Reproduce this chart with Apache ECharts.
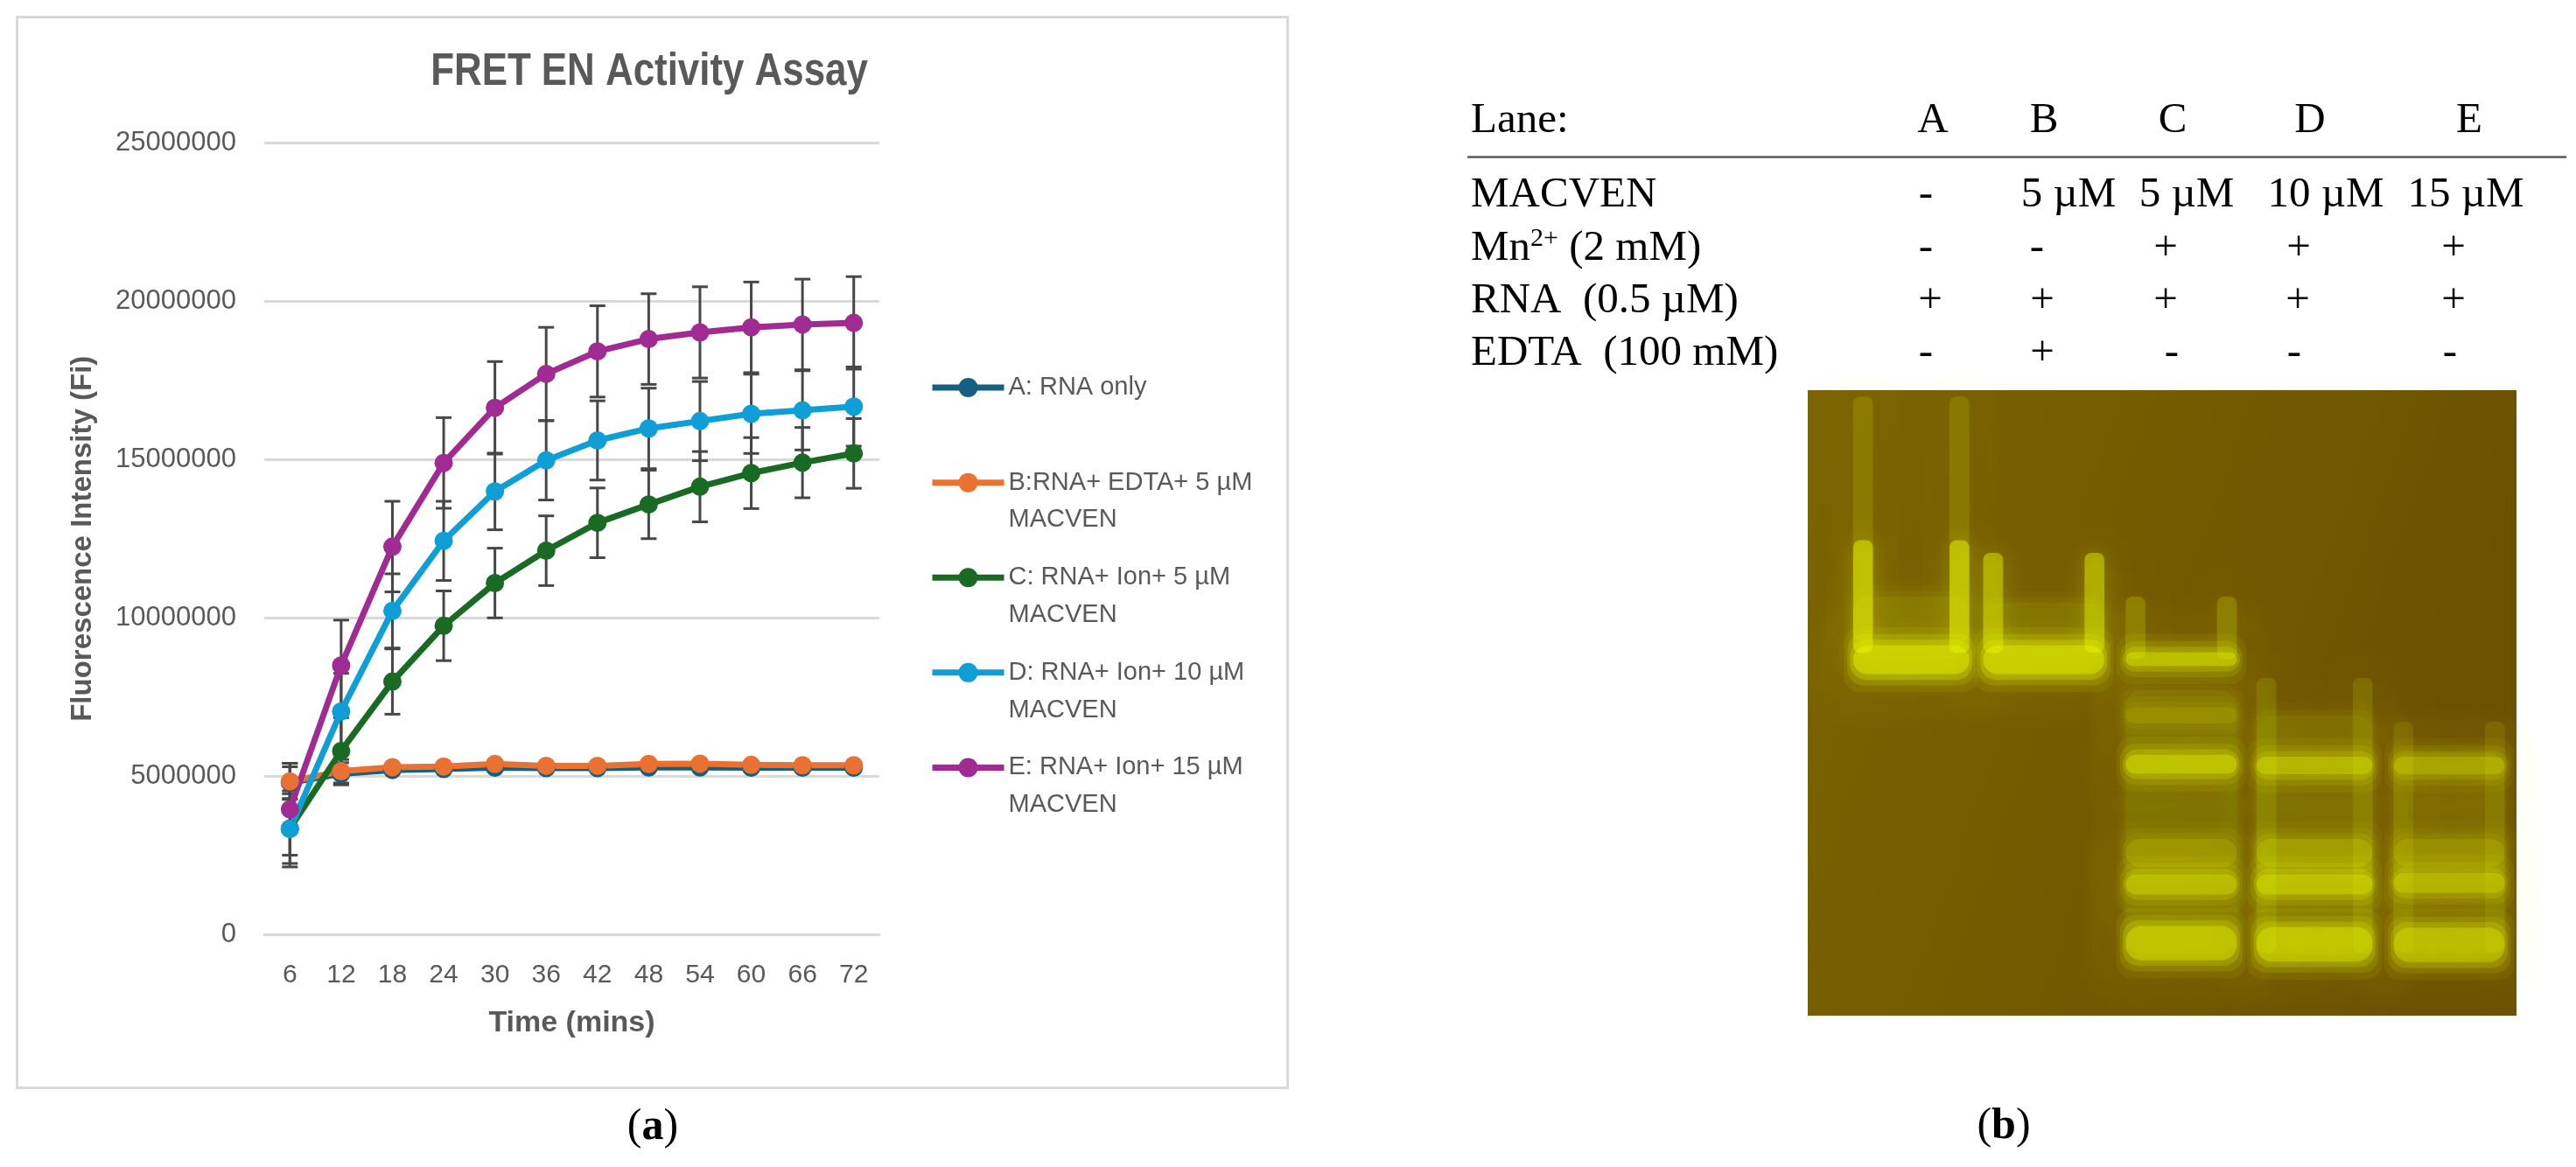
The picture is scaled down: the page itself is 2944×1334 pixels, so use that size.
<!DOCTYPE html>
<html>
<head>
<meta charset="utf-8">
<script src="https://cdn.jsdelivr.net/npm/echarts@6/dist/echarts.min.js"></script>
<style>
  html, body { margin: 0; padding: 0; background: #ffffff; }
  #main { width: 2944px; height: 1334px; }
</style>
</head>
<body>
<div id="main"></div>
<script>
// ---- panel (a) data ----
var times = ['6', '12', '18', '24', '30', '36', '42', '48', '54', '60', '66', '72'];
var seriesNames = [
  'A: RNA only',
  'B:RNA+ EDTA+ 5 µM MACVEN',
  'C: RNA+ Ion+ 5 µM MACVEN',
  'D: RNA+ Ion+ 10 µM MACVEN',
  'E: RNA+ Ion+ 15 µM MACVEN'
];
var colors = ['#156082', '#E97132', '#196B24', '#0F9ED5', '#A02B93'];

var rnaOnly  = [4800000, 5080000, 5200000, 5230000, 5270000, 5260000, 5260000, 5280000, 5280000, 5270000, 5270000, 5270000];
var rnaEdta  = [4840000, 5160000, 5290000, 5310000, 5390000, 5330000, 5330000, 5390000, 5400000, 5360000, 5350000, 5350000];
var ion5     = [3350000, 5800000, 7990000, 9750000, 11100000, 12120000, 13000000, 13580000, 14140000, 14570000, 14900000, 15190000];
var ion10    = [3340000, 7050000, 10220000, 12430000, 13990000, 14970000, 15600000, 15980000, 16210000, 16440000, 16550000, 16670000];
var ion15    = [3960000, 8500000, 12250000, 14890000, 16630000, 17700000, 18410000, 18800000, 19010000, 19170000, 19260000, 19310000];

var errRnaOnly = [500000, 350000, 100000, 100000, 100000, 100000, 100000, 100000, 100000, 100000, 100000, 100000];
var errRnaEdta = [570000, 370000, 100000, 100000, 100000, 100000, 100000, 100000, 100000, 100000, 100000, 100000];
var errIon5    = [1100000, 1050000, 1030000, 1100000, 1100000, 1100000, 1100000, 1080000, 1110000, 1120000, 1110000, 1100000];
var errIon10   = [1200000, 1200000, 1170000, 1250000, 1210000, 1250000, 1250000, 1270000, 1250000, 1250000, 1250000, 1250000];
var errIon15   = [1450000, 1430000, 1430000, 1430000, 1460000, 1470000, 1440000, 1430000, 1440000, 1430000, 1430000, 1460000];

var yTicks = { min: 0, max: 25000000, interval: 5000000 };

// ---- panel (b) data ----
var laneLabels = ['A', 'B', 'C', 'D', 'E'];
var rowLabels = ['MACVEN', '{n|Mn}{s|2+}{n| (2 mM)}', 'RNA  (0.5 µM)', 'EDTA  (100 mM)'];
var rowValues = [
  ['-', '5 µM', '5 µM', '10 µM', '15 µM'],
  ['-', '-', '+', '+', '+'],
  ['+', '+', '+', '+', '+'],
  ['-', '+', '-', '-', '-']
];

// gel: lane centre / width in % of gel width, bands [lane, position %, thickness %, intensity]
var laneCenter = [14.6, 33.3, 52.7, 71.5, 90.5];
var laneWidth  = [16.4, 17.1, 15.7, 16.4, 15.7];
var gelBands = [
  [0, 37.0, 8.0, 0.18],
  [0, 43.1, 4.6, 1.0],
  [1, 37.5, 7.0, 0.16],
  [1, 43.1, 4.6, 1.0],
  [2, 43.0, 2.2, 0.85],
  [2, 69.0, 42, 0.16],
  [2, 52.0, 2.6, 0.25],
  [2, 59.8, 3.0, 0.8],
  [2, 74.0, 4.5, 0.35],
  [2, 79.0, 3.2, 0.7],
  [2, 88.4, 5.5, 0.8],
  [3, 71.0, 38, 0.16],
  [3, 60.0, 2.8, 0.66],
  [3, 74.0, 4.5, 0.4],
  [3, 79.0, 3.2, 0.75],
  [3, 88.6, 5.5, 0.82],
  [4, 74.0, 32, 0.14],
  [4, 60.0, 2.8, 0.52],
  [4, 74.0, 4.5, 0.32],
  [4, 78.8, 3.2, 0.62],
  [4, 88.7, 5.5, 0.72]
];
// well walls [lane, top %, bottom %, intensity]
var gelWalls = [
  [0, 1, 40, 0.22],
  [0, 24, 42, 0.7],
  [1, 26, 42, 0.65],
  [2, 33, 43, 0.3],
  [3, 46, 90, 0.2],
  [4, 53, 90, 0.16]
];

var sans = '"Liberation Sans", Arial, sans-serif';
var serif = '"Liberation Serif", "Times New Roman", serif';
var grey = '#595959';

var chart = echarts.init(document.getElementById('main'));

function pairs(vals, errs) {
  var out = [];
  for (var i = 0; i < vals.length; i++) out.push([i, vals[i], errs[i]]);
  return out;
}

function renderError(params, api) {
  var i = api.value(0), v = api.value(1), e = api.value(2);
  var hi = api.coord([i, v + e]);
  var lo = api.coord([i, v - e]);
  var cw = 9;
  var st = { stroke: '#474747', lineWidth: 3 };
  return {
    type: 'group',
    children: [
      { type: 'line', shape: { x1: hi[0], y1: hi[1], x2: lo[0], y2: lo[1] }, style: st },
      { type: 'line', shape: { x1: hi[0] - cw, y1: hi[1], x2: hi[0] + cw, y2: hi[1] }, style: st },
      { type: 'line', shape: { x1: lo[0] - cw, y1: lo[1], x2: lo[0] + cw, y2: lo[1] }, style: st }
    ]
  };
}

// soft band: a few stacked rects growing outwards, fading
var bandLayers = [[0, 0.45], [0.9, 0.25], [1.8, 0.15], [2.9, 0.08]];
function renderBand(params, api) {
  var lane = api.value(0), pos = api.value(1), th = api.value(2), a = api.value(3);
  var c = laneCenter[lane], w = laneWidth[lane];
  var kids = [];
  bandLayers.forEach(function (ly) {
    var gx = ly[0] * 0.45, gy = ly[0];
    var p1 = api.coord([c - w / 2 - gx, pos - th / 2 - gy]);
    var p2 = api.coord([c + w / 2 + gx, pos + th / 2 + gy]);
    var h = Math.abs(p2[1] - p1[1]);
    var col = 'rgba(232,248,0,' + (a * ly[1]) + ')';
    kids.push({
      type: 'rect',
      shape: { x: p1[0], y: Math.min(p1[1], p2[1]), width: p2[0] - p1[0], height: h, r: Math.min(18, h / 2) },
      style: { fill: col, shadowBlur: 34, shadowColor: col }
    });
  });
  return { type: 'group', children: kids };
}

function renderWall(params, api) {
  var lane = api.value(0), top = api.value(1), bot = api.value(2), a = api.value(3);
  var c = laneCenter[lane], w = laneWidth[lane], ww = 2.8;
  var l1 = api.coord([c - w / 2, top]), l2 = api.coord([c - w / 2 + ww, bot]);
  var r1 = api.coord([c + w / 2 - ww, top]), r2 = api.coord([c + w / 2, bot]);
  var col = 'rgba(232,248,0,' + (a * 0.7) + ')';
  var st = { fill: col, shadowBlur: 26, shadowColor: col };
  return {
    type: 'group',
    children: [
      { type: 'rect', shape: { x: l1[0], y: l1[1], width: l2[0] - l1[0], height: l2[1] - l1[1], r: 8 }, style: st },
      { type: 'rect', shape: { x: r1[0], y: r1[1], width: r2[0] - r1[0], height: r2[1] - r1[1], r: 8 }, style: st }
    ]
  };
}

var lineData = [rnaOnly, rnaEdta, ion5, ion10, ion15];
var errData = [errRnaOnly, errRnaEdta, errIon5, errIon10, errIon15];

var series = [];
for (var s = 0; s < lineData.length; s++) {
  series.push({
    type: 'custom',
    name: seriesNames[s] + ' err',
    xAxisIndex: 0, yAxisIndex: 0,
    renderItem: renderError,
    data: pairs(lineData[s], errData[s]),
    encode: { x: 0, y: 1 },
    z: 2,
    silent: true
  });
}
for (var s2 = 0; s2 < lineData.length; s2++) {
  series.push({
    type: 'line',
    name: seriesNames[s2],
    xAxisIndex: 0, yAxisIndex: 0,
    data: lineData[s2],
    color: colors[s2],
    symbol: 'circle',
    symbolSize: 21,
    showAllSymbol: true,
    lineStyle: { width: 7, color: colors[s2] },
    itemStyle: { color: colors[s2] },
    z: 3
  });
}
series.push({
  type: 'custom', name: 'walls', xAxisIndex: 1, yAxisIndex: 1,
  renderItem: renderWall, data: gelWalls, z: 2, silent: true
});
series.push({
  type: 'custom', name: 'bands', xAxisIndex: 1, yAxisIndex: 1,
  renderItem: renderBand, data: gelBands, z: 3, silent: true
});

var labelRich = {
  p: { fontFamily: serif, fontSize: 50, fill: '#000' },
  b: { fontFamily: serif, fontSize: 50, fontWeight: 'bold', fill: '#000' }
};
var graphics = [
  { type: 'rect', shape: { x: 19.5, y: 19.5, width: 1452, height: 1224 },
    style: { fill: 'none', stroke: '#d9d9d9', lineWidth: 3 }, z: 0 },
  { type: 'text', x: 742, y: 83, scaleX: 0.86,
    style: { text: 'FRET EN Activity Assay', fontFamily: sans, fontSize: 51, fontWeight: 'bold',
      fill: grey, align: 'center', verticalAlign: 'middle' } },
  { type: 'text', x: 746, y: 1289,
    style: { text: '{p|(}{b|a}{p|)}', align: 'center', verticalAlign: 'middle', rich: labelRich } },
  { type: 'text', x: 2290, y: 1288,
    style: { text: '{p|(}{b|b}{p|)}', align: 'center', verticalAlign: 'middle', rich: labelRich } },
  { type: 'line', shape: { x1: 1677, y1: 179.5, x2: 2933, y2: 179.5 },
    style: { stroke: '#5a5a5a', lineWidth: 2.5 } },
  { type: 'text', x: 1681, y: 138.5,
    style: { text: 'Lane:', fontFamily: serif, fontSize: 49, fill: '#000', verticalAlign: 'middle' } }
];
var headerX = [2209, 2336, 2483, 2640, 2822];
var rowY = [223.5, 284, 344, 404];
var cellX = [
  [2201, 2364, 2499, 2658, 2818],
  [2201, 2328, 2475, 2627, 2804],
  [2206, 2334, 2475, 2626, 2804],
  [2201, 2334, 2482, 2622, 2800]
];
laneLabels.forEach(function (l, i) {
  graphics.push({ type: 'text', x: headerX[i], y: 138.5,
    style: { text: l, fontFamily: serif, fontSize: 49, fill: '#000', align: 'center', verticalAlign: 'middle' } });
});
rowLabels.forEach(function (r, j) {
  graphics.push({ type: 'text', x: 1681, y: rowY[j],
    style: { text: r, fontFamily: serif, fontSize: 49, fill: '#000', verticalAlign: 'middle',
      rich: {
        n: { fontFamily: serif, fontSize: 49, fill: '#000', verticalAlign: 'middle', lineHeight: 52 },
        s: { fontFamily: serif, fontSize: 30, fill: '#000', verticalAlign: 'top', lineHeight: 30 }
      } } });
  rowValues[j].forEach(function (v, i) {
    graphics.push({ type: 'text', x: cellX[j][i], y: rowY[j],
      style: { text: v, fontFamily: serif, fontSize: 49, fill: '#000', align: 'center', verticalAlign: 'middle' } });
  });
});

var legendLine = 42.7;
var option = {
  backgroundColor: '#ffffff',
  animation: false,
  legend: {
    orient: 'vertical', left: 1062, top: 379, padding: 0, itemGap: -19.5,
    itemWidth: 82, itemHeight: 27.5,
    selectedMode: false,
    data: seriesNames,
    lineStyle: { width: 7 },
    formatter: function (name) {
      var parts = name.indexOf(' MACVEN') > 0 ? [name.replace(' MACVEN', ''), 'MACVEN'] : [name, ' '];
      return '{t|' + parts[0] + '}\n{t|' + parts[1] + '}';
    },
    textStyle: {
      fontFamily: sans, fontSize: 29, color: grey, lineHeight: legendLine,
      padding: [legendLine, 0, 0, 0],
      rich: { t: { fontFamily: sans, fontSize: 29, color: grey, lineHeight: legendLine } }
    }
  },
  grid: [
    { left: 302, top: 163, width: 703, height: 905.5 },
    { left: 2066, top: 446, width: 810, height: 715, show: true, borderWidth: 0,
      backgroundColor: { type: 'linear', x: 0, y: 0, x2: 1, y2: 0.4,
        colorStops: [{ offset: 0, color: '#7b6400' }, { offset: 1, color: '#6b5100' }] } }
  ],
  xAxis: [
    {
      type: 'category', gridIndex: 0, data: times, boundaryGap: true,
      axisLine: { show: true, lineStyle: { color: '#d9d9d9', width: 3 } },
      axisTick: { show: false },
      axisLabel: { fontFamily: sans, fontSize: 30, color: grey, margin: 31 },
      name: 'Time (mins)', nameLocation: 'middle', nameGap: 84,
      nameTextStyle: { fontFamily: sans, fontSize: 34, fontWeight: 'bold', color: grey }
    },
    { type: 'value', gridIndex: 1, min: 0, max: 100, show: false }
  ],
  yAxis: [
    {
      type: 'value', gridIndex: 0, min: yTicks.min, max: yTicks.max, interval: yTicks.interval,
      axisLine: { show: false }, axisTick: { show: false },
      splitLine: { lineStyle: { color: '#d9d9d9', width: 3 } },
      axisLabel: { fontFamily: sans, fontSize: 31, color: grey, margin: 32,
        formatter: function (v) { return String(v); } },
      name: 'Fluorescence Intensity (Fi)', nameLocation: 'middle', nameGap: 191,
      nameTextStyle: { fontFamily: sans, fontSize: 33, fontWeight: 'bold', color: grey }
    },
    { type: 'value', gridIndex: 1, min: 0, max: 100, inverse: true, show: false }
  ],
  series: series,
  graphic: graphics
};

chart.setOption(option);
</script>
</body>
</html>
